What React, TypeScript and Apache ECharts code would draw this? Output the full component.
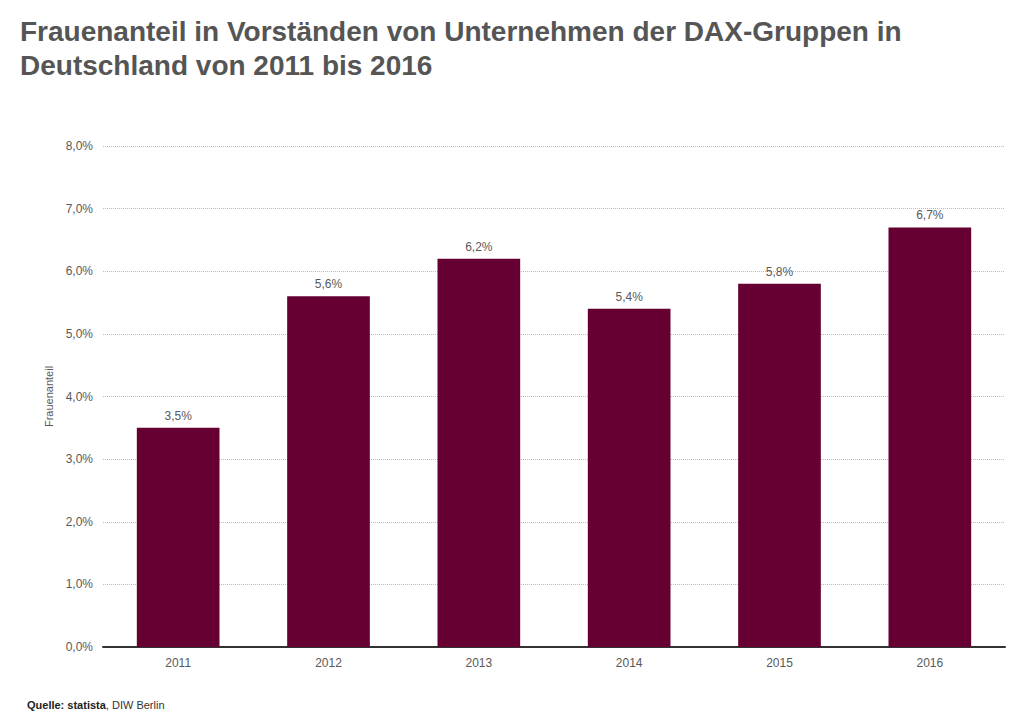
import React, { useEffect, useRef } from "react";
import * as echarts from "echarts";

const years = ["2011", "2012", "2013", "2014", "2015", "2016"];
const shares = [3.5, 5.6, 6.2, 5.4, 5.8, 6.7];
const titleText = "Frauenanteil in Vorständen von Unternehmen der DAX-Gruppen in\nDeutschland von 2011 bis 2016";
const axisName = "Frauenanteil";

const fmt = (v: number) => v.toFixed(1).replace(".", ",") + "%";

export default function App() {
  const ref = useRef<HTMLDivElement>(null);
  useEffect(() => {
    const chart = echarts.init(ref.current!, null, { renderer: "svg" });
    chart.setOption({
      animation: false,
      title: {
        text: titleText,
        left: 15,
        top: 9,
        textStyle: {
          fontFamily: "Liberation Sans, Arial, sans-serif",
          fontSize: 28,
          fontWeight: "bold",
          color: "#555555",
          lineHeight: 34,
        },
      },
      graphic: [
        {
          type: "text",
          left: 27,
          top: 699,
          style: {
            text: "{b|Quelle: statista}, DIW Berlin",
            fontFamily: "Liberation Sans, Arial, sans-serif",
            fontSize: 11,
            fill: "#333",
            rich: {
              b: { fontWeight: "bold", fontSize: 11, fill: "#222", fontFamily: "Liberation Sans, Arial, sans-serif" },
            },
          },
        },
      ],
      grid: { left: 103, right: 19, top: 146, bottom: 72 },
      xAxis: {
        type: "category",
        data: years,
        axisTick: { show: false },
        axisLine: { lineStyle: { color: "#333", width: 2 } },
        axisLabel: {
          color: "#595959",
          fontSize: 12,
          fontFamily: "Liberation Sans, Arial, sans-serif",
          margin: 10,
        },
      },
      yAxis: {
        type: "value",
        min: 0,
        max: 8,
        interval: 1,
        name: axisName,
        nameLocation: "middle",
        nameGap: 40,
        nameTextStyle: {
          color: "#595959",
          fontSize: 11,
          fontFamily: "Liberation Sans, Arial, sans-serif",
        },
        axisLabel: {
          formatter: (v: number) => fmt(v),
          color: "#595959",
          fontSize: 12,
          fontFamily: "Liberation Sans, Arial, sans-serif",
          margin: 10,
        },
        splitLine: { lineStyle: { color: "#bbb", type: "dotted", width: 1 } },
      },
      series: [
        {
          type: "bar",
          data: shares,
          barWidth: "55%",
          itemStyle: { color: "#660033" },
          label: {
            show: true,
            position: "top",
            formatter: (p: any) => fmt(p.value),
            color: "#595959",
            fontSize: 12,
            fontFamily: "Liberation Sans, Arial, sans-serif",
            distance: 6,
          },
        },
      ],
    });
    return () => chart.dispose();
  }, []);
  return <div ref={ref} style={{ width: 1024, height: 719, position: "absolute", left: 0, top: 0 }} />;
}
